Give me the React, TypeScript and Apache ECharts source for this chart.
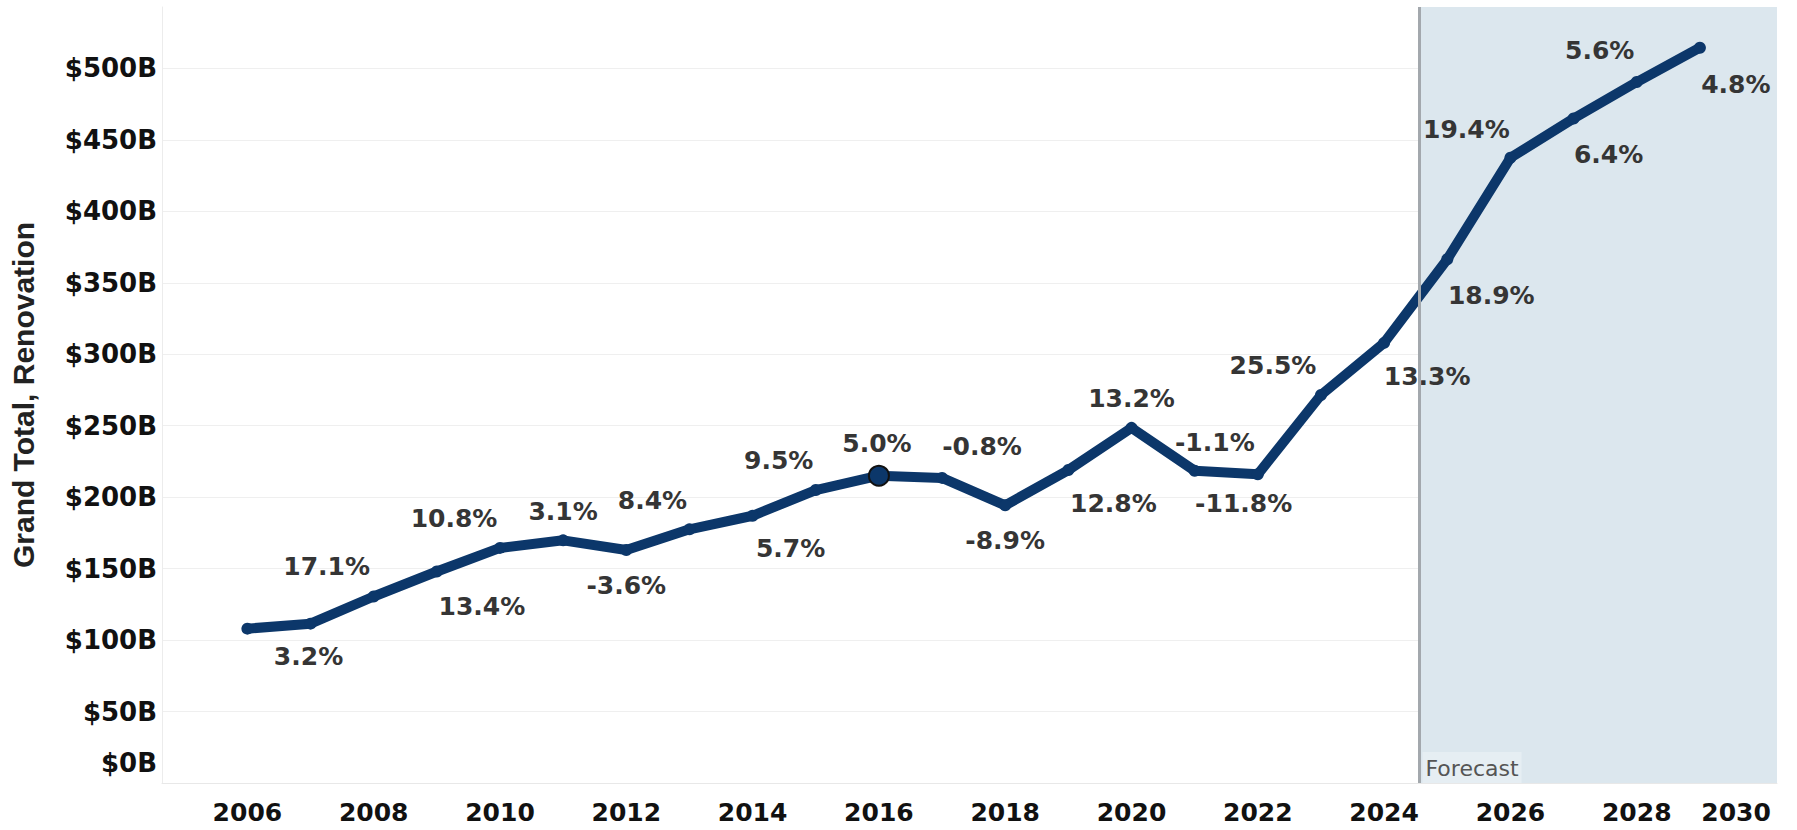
import React, { useEffect, useRef } from "react";
import * as echarts from "echarts";

// ---- data ----
const years = [
  2006, 2007, 2008, 2009, 2010, 2011, 2012, 2013, 2014, 2015, 2016, 2017,
  2018, 2019, 2020, 2021, 2022, 2023, 2024, 2025, 2026, 2027, 2028, 2029,
];
const renovationB = [
  108, 111.5, 130.5, 148, 164.5, 169.8, 163, 177.5, 187, 205, 215, 213.5,
  194.3, 219, 248.5, 218.5, 216, 271.5, 308, 366.5, 437.5, 465, 490.5, 514.5,
];
const growthLabels = [
  "", "3.2%", "17.1%", "13.4%", "10.8%", "3.1%", "-3.6%", "8.4%", "5.7%",
  "9.5%", "5.0%", "-0.8%", "-8.9%", "12.8%", "13.2%", "-11.8%", "-1.1%",
  "25.5%", "13.3%", "18.9%", "19.4%", "6.4%", "5.6%", "4.8%",
];
const yTickValues = [0, 50, 100, 150, 200, 250, 300, 350, 400, 450, 500];
const xTickValues = [2006, 2008, 2010, 2012, 2014, 2016, 2018, 2020, 2022, 2024, 2026, 2028, 2030];
const forecastStart = 2024.56;
const highlightYear = 2016;
const yAxisTitle = "Grand Total, Renovation";
const forecastText = "Forecast";

// ---- label placement (style, px offsets of each label centre from its point) ----
const labelOffsets: [number, number][] = [
  [0, 0], [-2, 33], [-47, -30], [45, 35], [-46, -29], [0, -29], [0, 35],
  [-37, -29], [38, 33], [-37, -30], [-1, -31], [40, -31], [0, 35], [45, 33],
  [0, -29], [49, 33], [-43, -32], [-48, -30], [43, 34], [44, 36], [-44, -28],
  [35, 36], [-37, -32], [36, 37],
];

const NAVY = "#0c376a";
const TICK_FONT = "DejaVu Sans";
const BASE_SYMBOL = 12;
const HIGHLIGHT_SYMBOL = 20;

export default function App() {
  const ref = useRef<HTMLDivElement>(null);

  useEffect(() => {
    if (!ref.current) return;
    const chart = echarts.init(ref.current, null, { renderer: "svg" });

    const seriesData = years.map((yr, i) => {
      const isHi = yr === highlightYear;
      const half = (isHi ? HIGHLIGHT_SYMBOL : BASE_SYMBOL) / 2;
      const item: any = {
        value: [yr, renovationB[i]],
        label: {
          show: growthLabels[i] !== "",
          formatter: growthLabels[i],
          position: [half + labelOffsets[i][0], half + labelOffsets[i][1]],
          align: "center",
          verticalAlign: "middle",
        },
      };
      if (isHi) {
        item.symbolSize = HIGHLIGHT_SYMBOL;
        item.itemStyle = { color: NAVY, borderColor: "#111", borderWidth: 2 };
      }
      return item;
    });

    const option: any = {
      animation: false,
      backgroundColor: "#ffffff",
      grid: { left: 150, right: 20, top: 7, bottom: 47, containLabel: false },
      xAxis: {
        type: "value",
        min: 2004.648,
        max: 2030.221,
        splitLine: { show: false },
        axisLine: { show: true, lineStyle: { color: "#e8e8e8", width: 1 } },
        axisTick: { show: false, customValues: xTickValues },
        axisLabel: {
          customValues: xTickValues,
          margin: 17,
          color: "#111",
          fontFamily: TICK_FONT,
          fontWeight: "bold",
          fontSize: 25,
          formatter: (v: number) => (v === 2030 ? "{last|" + v + "}" : String(v)),
          rich: {
            last: {
              padding: [0, 54, 0, 0],
              color: "#111",
              fontFamily: TICK_FONT,
              fontWeight: "bold",
              fontSize: 25,
            },
          },
        },
      },
      yAxis: {
        type: "value",
        min: 0,
        max: 543,
        name: yAxisTitle,
        nameLocation: "middle",
        nameGap: 124,
        nameTextStyle: {
          fontFamily: "Liberation Sans",
          fontWeight: "bold",
          fontSize: 30,
          color: "#222",
        },
        axisLine: { show: true, lineStyle: { color: "#ececec", width: 1 } },
        axisTick: { show: false, customValues: yTickValues },
        splitLine: { show: true, lineStyle: { color: "#efefef", width: 1 } },
        axisLabel: {
          customValues: yTickValues,
          margin: 5,
          color: "#111",
          fontFamily: TICK_FONT,
          fontWeight: "bold",
          fontSize: 26,
          formatter: (v: number) => (v === 0 ? "{zero|$0B}" : "$" + v + "B"),
          rich: {
            zero: {
              padding: [0, 0, 40, 0],
              color: "#111",
              fontFamily: TICK_FONT,
              fontWeight: "bold",
              fontSize: 26,
            },
          },
        },
      },
      series: [
        {
          type: "line",
          z: 1,
          data: [],
          silent: true,
          markArea: {
            silent: true,
            itemStyle: { color: "#dce7ee" },
            label: {
              show: true,
              position: "insideBottomLeft",
              distance: 0,
              offset: [3, 0],
              formatter: forecastText,
              color: "#555",
              fontFamily: "DejaVu Sans",
              fontSize: 22,
              backgroundColor: "#e6eef3",
              padding: [5, 3, 4, 3],
            },
            data: [[{ xAxis: forecastStart }, { xAxis: 2030.221 }]],
          },
          markLine: {
            silent: true,
            symbol: ["none", "none"],
            label: { show: false },
            lineStyle: { color: "#a3a8ad", width: 3, type: "solid" },
            data: [{ xAxis: forecastStart }],
          },
        },
        {
          type: "line",
          z: 3,
          data: seriesData,
          symbol: "circle",
          symbolSize: BASE_SYMBOL,
          showAllSymbol: true,
          itemStyle: { color: NAVY },
          lineStyle: { color: NAVY, width: 10, cap: "round", join: "round" },
          label: {
            show: true,
            color: "#353535",
            fontFamily: TICK_FONT,
            fontWeight: "bold",
            fontSize: 25,
          },
          labelLayout: { hideOverlap: false },
        },
      ],
    };

    chart.setOption(option);
    return () => chart.dispose();
  }, []);

  return (
    <div
      ref={ref}
      style={{ position: "absolute", left: 0, top: 0, width: 1797, height: 830 }}
    />
  );
}
